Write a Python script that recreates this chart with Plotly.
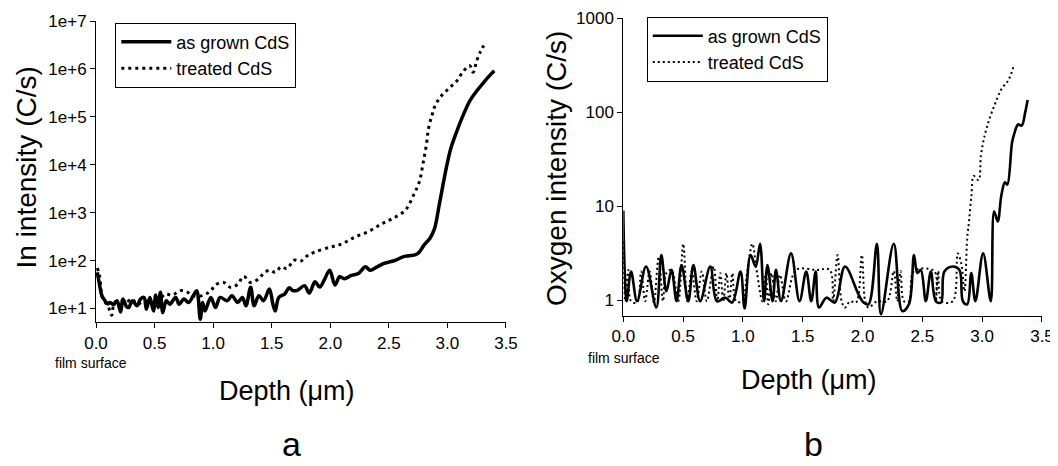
import plotly.graph_objects as go

# ---------------- data: panel a (In intensity) ----------------
in_grown_depth = [0.011, 0.03, 0.05, 0.077, 0.10, 0.12, 0.15, 0.18, 0.21, 0.23, 0.26, 0.28, 0.31, 0.35, 0.38,
                  0.41, 0.43, 0.46, 0.49, 0.51, 0.53, 0.55, 0.57, 0.60, 0.63, 0.68, 0.71, 0.75, 0.79, 0.83,
                  0.86, 0.89, 0.91, 0.93, 0.98, 1.02, 1.06, 1.12, 1.16, 1.21, 1.25, 1.28, 1.32, 1.35, 1.39,
                  1.43, 1.48, 1.51, 1.53, 1.56, 1.61, 1.65, 1.68, 1.72, 1.78, 1.82, 1.87, 1.91, 1.95, 1.995,
                  2.04, 2.08, 2.12, 2.18, 2.24, 2.30, 2.34, 2.40, 2.46, 2.50, 2.56, 2.62, 2.67, 2.73, 2.76,
                  2.80, 2.85, 2.89, 2.93, 2.99, 3.03, 3.08, 3.13, 3.19, 3.25, 3.31, 3.36, 3.40]
in_grown_int = [57, 32, 18.5, 14.5, 12.5, 13.4, 12, 14.5, 8.5, 15.8, 11, 10.5, 14.5, 11.4, 15.8,
                17, 9.7, 17, 8.9, 19.1, 10.5, 21.8, 8.2, 14.5, 12.3, 17, 12.3, 15.8, 13.4, 18.5,
                23.6, 5.95, 13.4, 8.9, 17, 10.5, 17, 14.5, 18.5, 13.4, 17, 11.4, 27.8, 11.4, 18.5,
                14.5, 25.6, 12.3, 8.9, 17, 20, 27, 23.6, 24, 30, 21, 36, 28, 40, 63,
                31, 46, 42, 49, 54, 74, 63, 74, 87, 93, 102, 120, 126, 133, 151,
                210, 290, 465, 1450, 8500, 22400, 50000, 102000, 214000, 347000, 525000, 724000, 912000]

in_treated_depth = [0.011, 0.03, 0.057, 0.09, 0.12, 0.134, 0.16, 0.22, 0.26, 0.31, 0.35, 0.42, 0.51, 0.59,
                    0.65, 0.72, 0.78, 0.82, 0.91, 0.98, 1.02, 1.09, 1.15, 1.21, 1.26, 1.32, 1.39, 1.43,
                    1.48, 1.53, 1.58, 1.63, 1.69, 1.75, 1.81, 1.87, 2.0, 2.10, 2.21, 2.33, 2.44, 2.53,
                    2.64, 2.71, 2.76, 2.79, 2.82, 2.84, 2.87, 2.90, 2.96, 3.02, 3.08, 3.13, 3.19, 3.22,
                    3.25, 3.28, 3.31]
in_treated_int = [70, 49, 16, 12.3, 8.9, 7.2, 13.5, 14.5, 13.8, 15.8, 12.3, 14.5, 12.3, 20,
                  19, 23.6, 22, 18.6, 18.6, 23.6, 31, 35, 27.5, 32, 47, 35, 42, 54,
                  63, 57, 74, 68, 102, 98, 129, 151, 191, 224, 309, 407, 589, 750,
                  1120, 2300, 4400, 10000, 26000, 59000, 112000, 182000, 295000, 407000, 562000, 851000, 1170000, 850000,
                  1480000, 2240000, 3090000]

# ---------------- data: panel b (Oxygen intensity) ----------------
o_grown_depth = [0.0, 0.011, 0.028, 0.065, 0.115, 0.19, 0.276, 0.318, 0.36, 0.403, 0.445, 0.487, 0.543,
                 0.586, 0.642, 0.727, 0.783, 0.853, 0.91, 0.98, 1.014, 1.064, 1.107, 1.143, 1.177, 1.205,
                 1.248, 1.276, 1.318, 1.402, 1.473, 1.529, 1.571, 1.608, 1.636, 1.698, 1.768, 1.853,
                 1.966, 2.008, 2.05, 2.12, 2.154, 2.261, 2.332, 2.388, 2.43, 2.458, 2.487, 2.529, 2.571,
                 2.613, 2.656, 2.684, 2.754, 2.81, 2.839, 2.875, 2.909, 2.943, 3.008, 3.072, 3.10, 3.13,
                 3.16, 3.19, 3.21, 3.25, 3.27, 3.30, 3.33, 3.36, 3.38]
o_grown_int = [9.0, 2.2, 0.98, 2.03, 0.98, 2.29, 0.84, 3.04, 1.25, 2.11, 0.98, 2.38, 0.98,
               2.38, 0.98, 2.29, 0.98, 1.07, 0.95, 2.03, 0.82, 3.04, 2.29, 4.0, 0.98, 2.38,
               0.98, 2.11, 0.98, 3.16, 0.98, 2.03, 0.98, 2.03, 0.84, 1.07, 0.95, 2.29,
               1.16, 0.95, 0.91, 4.0, 0.71, 4.0, 0.77, 0.91, 3.04, 1.95, 2.11, 0.98, 2.03,
               0.98, 0.95, 2.03, 2.29, 2.11, 0.98, 0.91, 1.95, 0.98, 3.16, 0.98, 8.8, 6.9,
               13, 18, 17, 48, 60, 74, 72, 100, 135]

o_treated_depth = [0.0, 0.017, 0.042, 0.065, 0.115, 0.149, 0.183, 0.22, 0.256, 0.296, 0.332, 0.36, 0.403,
                   0.459, 0.501, 0.535, 0.572, 0.614, 0.656, 0.698, 0.755, 0.786, 0.811, 0.836, 0.862,
                   0.887, 0.912, 0.943, 0.994, 1.036, 1.079, 1.112, 1.163, 1.191, 1.211, 1.239, 1.276,
                   1.31, 1.36, 1.445, 1.614, 1.726, 1.754, 1.791, 1.825, 1.853, 1.895, 1.946, 1.994,
                   2.022, 2.05, 2.12, 2.205, 2.261, 2.29, 2.318, 2.346, 2.388, 2.43, 2.6, 2.613, 2.633,
                   2.661, 2.754, 2.796, 2.825, 2.852, 2.875, 2.89, 2.91, 2.93, 2.97, 2.99, 3.02, 3.06,
                   3.11, 3.16, 3.22, 3.26]
o_treated_int = [4.2, 0.98, 2.1, 0.98, 0.95, 2.03, 0.98, 2.03, 0.95, 2.9, 0.98, 1.95, 2.11,
                 0.98, 4.0, 0.98, 2.03, 0.98, 2.03, 0.98, 2.29, 0.98, 1.95, 0.98, 1.95,
                 0.98, 1.95, 0.98, 0.98, 2.03, 4.0, 2.2, 0.98, 1.95, 0.91, 1.95, 0.98,
                 1.87, 0.98, 2.11, 2.11, 2.11, 0.98, 3.04, 0.98, 0.84, 0.98, 0.95, 3.04,
                 0.98, 0.84, 0.98, 0.98, 2.05, 0.98, 2.05, 0.98, 0.98, 2.05, 2.05, 0.98, 2.05,
                 0.98, 0.98, 3.16, 2.48, 1.25, 4.6, 6.9, 13, 21, 19, 35, 56, 84,
                 125, 175, 220, 300]

depth_ticks = [0.0, 0.5, 1.0, 1.5, 2.0, 2.5, 3.0, 3.5]
in_ticks = [1e1, 1e2, 1e3, 1e4, 1e5, 1e6, 1e7]
in_tick_text = ["1e+1", "1e+2", "1e+3", "1e+4", "1e+5", "1e+6", "1e+7"]
o_ticks = [1, 10, 100, 1000]
o_tick_text = ["1", "10", "100", "1000"]

FONT = "Liberation Sans, Arial, sans-serif"
OFF = 8  # page body margin
W, H = 1058 - OFF, 466 - OFF


def fx(p):
    return (p - OFF) / W


def fy(p):
    return 1 - (p - OFF) / H


fig = go.Figure()
fig.add_trace(go.Scatter(x=in_grown_depth, y=in_grown_int, mode="lines", name="as grown CdS",
                         line=dict(color="black", width=3.5, shape="spline"),
                         xaxis="x", yaxis="y", legend="legend"))
fig.add_trace(go.Scatter(x=in_treated_depth, y=in_treated_int, mode="lines", name="treated CdS",
                         line=dict(color="black", width=3, dash="3px,4px", shape="spline"),
                         xaxis="x", yaxis="y", legend="legend"))
fig.add_trace(go.Scatter(x=o_grown_depth, y=o_grown_int, mode="lines", name="as grown CdS",
                         line=dict(color="black", width=2.6, shape="spline"),
                         xaxis="x2", yaxis="y2", legend="legend2"))
fig.add_trace(go.Scatter(x=o_treated_depth, y=o_treated_int, mode="lines", name="treated CdS",
                         line=dict(color="black", width=2, dash="2px,3px", shape="spline"),
                         xaxis="x2", yaxis="y2", legend="legend2"))

axis_common = dict(showgrid=False, zeroline=False, showline=True, linecolor="black", linewidth=1,
                   ticks="outside", ticklen=5, tickcolor="black", tickwidth=1, automargin=False,
                   ticklabeloverflow="allow",
                   tickfont=dict(family=FONT, size=17, color="black"))

legend_common = dict(xanchor="left", yanchor="top", bordercolor="black", borderwidth=1,
                     bgcolor="white", itemwidth=50, tracegroupgap=0,
                     font=dict(family=FONT, size=18, color="black"))

fig.update_layout(
    width=W, height=H,
    margin=dict(l=0, r=0, t=0, b=0, pad=0, autoexpand=False),
    paper_bgcolor="white", plot_bgcolor="white",
    font=dict(family=FONT, color="black"),
    xaxis=dict(domain=[fx(96), fx(506)], range=[0, 3.5001], anchor="y",
               tickvals=depth_ticks, ticktext=[f"{v:.1f}" for v in depth_ticks], **axis_common),
    yaxis=dict(domain=[fy(322.4), fy(21)], type="log", range=[0.71, 7.0003], anchor="x",
               tickvals=in_ticks, ticktext=in_tick_text, **axis_common),
    xaxis2=dict(domain=[fx(623.3), fx(1042)], range=[0, 3.5001], anchor="y2",
                tickvals=depth_ticks, ticktext=[f"{v:.1f}" for v in depth_ticks], **axis_common),
    yaxis2=dict(domain=[fy(315.5), fy(18)], type="log", range=[-0.16, 3.0003], anchor="x2",
                tickvals=o_ticks, ticktext=o_tick_text, **axis_common),
    legend=dict(x=fx(115.3), y=fy(22.6), **legend_common),
    legend2=dict(x=fx(646.8), y=fy(16.5), **legend_common),
    showlegend=True,
)

annots = [
    dict(text="film surface", x=90.8, y=362.7, size=14, angle=0),
    dict(text="film surface", x=623.8, y=357.7, size=14, angle=0),
    dict(text="Depth (μm)", x=287, y=391, size=27, angle=0),
    dict(text="Depth (μm)", x=808.8, y=380, size=27, angle=0),
    dict(text="In intensity (C/s)", x=26, y=167.5, size=28, angle=-90),
    dict(text="Oxygen intensity (C/s)", x=556, y=169, size=28, angle=-90),
    dict(text="a", x=291, y=443.5, size=34, angle=0),
    dict(text="b", x=813, y=443.5, size=34, angle=0),
]
for a in annots:
    fig.add_annotation(text=a["text"], x=fx(a["x"]), y=fy(a["y"]), xref="paper", yref="paper",
                       xanchor="center", yanchor="middle", showarrow=False, textangle=a["angle"],
                       font=dict(family=FONT, size=a["size"], color="black"))

fig.write_html("out.html")
